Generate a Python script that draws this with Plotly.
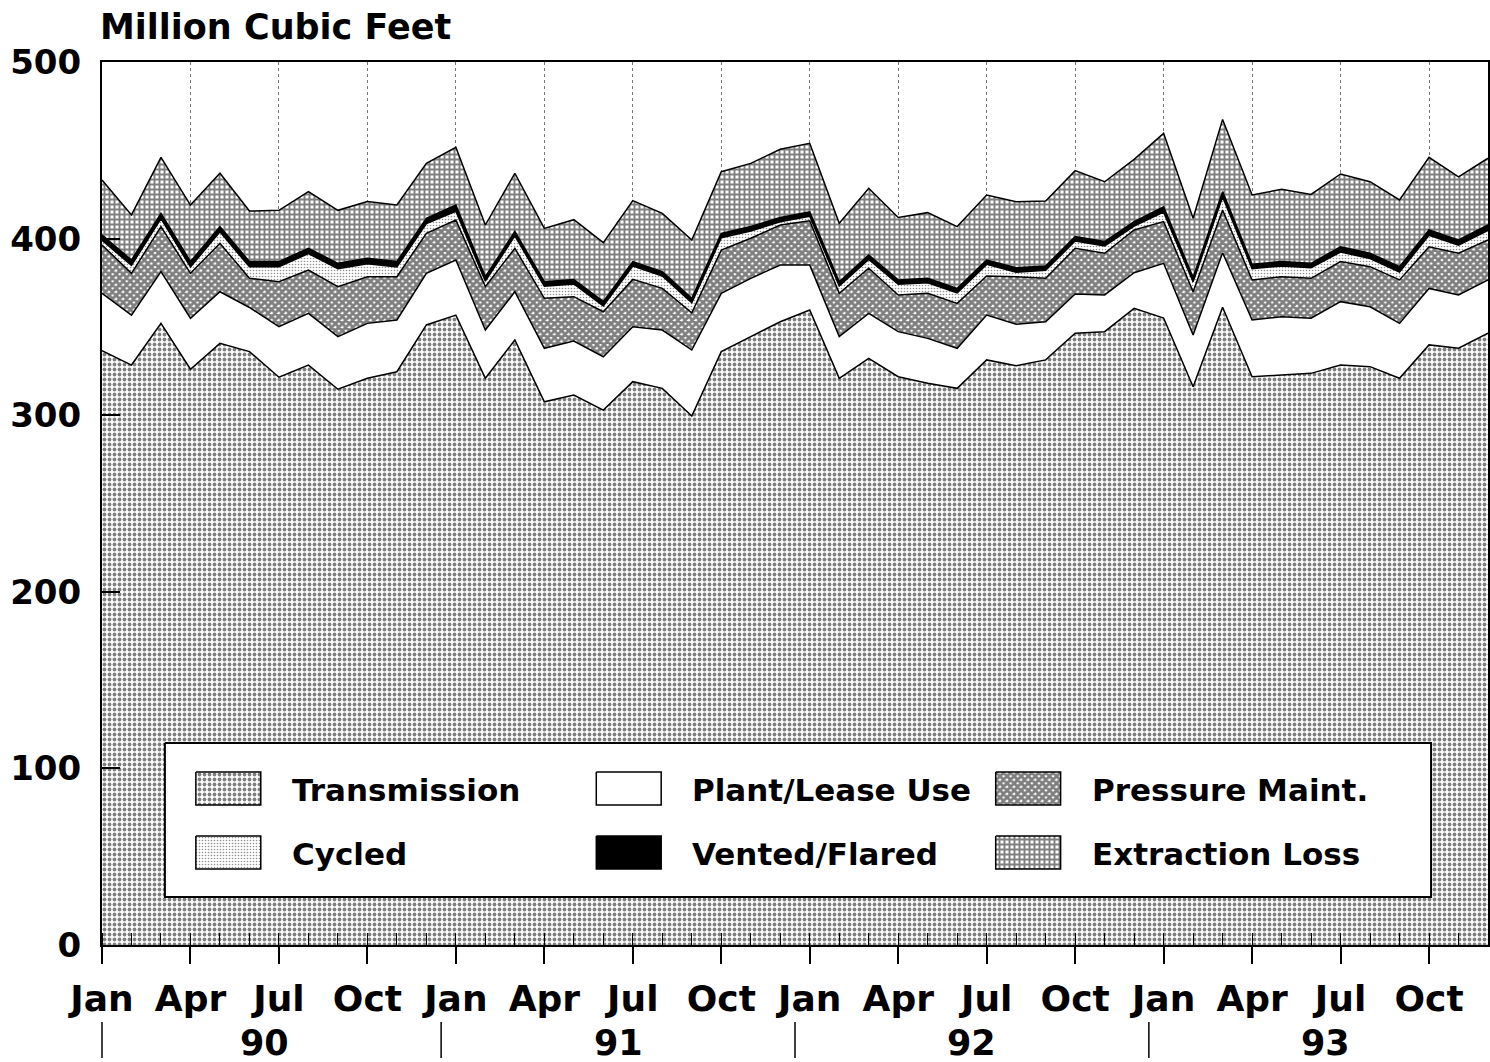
import plotly.graph_objects as go

# month index 0 = Jan 1990 ... 47 = Dec 1993
months = list(range(48))
quarter_ticks = list(range(0, 48, 3))
quarter_labels = ["Jan", "Apr", "Jul", "Oct"] * 4
year_labels = ["90", "91", "92", "93"]
year_centers = [5.5, 17.5, 29.5, 41.5]
year_breaks = [0, 11.5, 23.5, 35.5]

transmission = [336.5, 328.4, 352.0, 326.0, 340.7, 336.0, 321.5, 328.4, 314.7, 320.9, 324.6, 351.1,
                356.7, 320.9, 342.6, 307.6, 311.4, 302.9, 319.0, 315.2, 299.5, 336.0, 344.5, 352.9,
                359.6, 320.9, 332.2, 321.8, 318.1, 315.2, 331.3, 328.0, 331.3, 346.4, 347.3, 360.5,
                355.0, 316.1, 361.1, 321.8, 322.8, 323.7, 328.4, 327.5, 320.9, 339.8, 337.9, 346.4]
plant_lease = [32.5, 28.3, 29.3, 28.9, 29.2, 25.0, 28.6, 29.3, 29.8, 31.1, 29.3, 29.2,
               31.2, 27.3, 27.3, 30.3, 30.6, 30.2, 31.1, 33.0, 37.4, 33.0, 33.0, 32.1,
               25.4, 23.6, 25.5, 25.5, 25.4, 22.7, 25.4, 23.5, 21.6, 22.2, 20.8, 20.2,
               31.0, 29.3, 30.9, 32.1, 33.0, 31.2, 35.9, 33.9, 31.1, 32.0, 30.2, 30.2]
pressure_maint = [27.4, 23.6, 25.5, 25.4, 27.4, 16.5, 25.5, 24.5, 28.3, 26.4, 24.5, 22.7,
                  22.6, 24.6, 24.6, 28.3, 25.1, 25.5, 26.8, 23.6, 21.1, 24.5, 22.7, 22.7,
                  25.1, 24.5, 25.5, 20.8, 25.5, 25.4, 22.1, 26.9, 24.6, 25.9, 23.6, 24.2,
                  23.6, 24.5, 24.2, 22.7, 22.6, 22.6, 22.7, 22.7, 24.6, 23.6, 23.6, 22.6]
cycled = [2.6, 4.6, 4.5, 3.7, 6.5, 6.5, 8.4, 9.3, 10.2, 7.4, 5.6, 5.5,
          5.0, 3.1, 7.0, 6.9, 7.2, 3.2, 7.6, 7.0, 5.7, 7.0, 4.1, 1.8,
          2.6, 4.1, 5.0, 6.0, 6.0, 6.0, 6.6, 2.6, 4.5, 4.1, 4.1, 2.2,
          5.4, 5.6, 7.4, 6.4, 6.1, 6.0, 5.4, 4.6, 4.5, 6.5, 4.5, 5.5]
vented = [3.0, 3.0, 3.0, 3.0, 3.0, 3.0, 3.0, 3.0, 3.0, 3.0, 3.0, 3.0,
          3.5, 2.5, 2.5, 2.5, 2.5, 2.5, 2.5, 2.5, 2.5, 2.5, 2.5, 2.5,
          2.5, 2.5, 2.5, 2.5, 2.5, 2.5, 2.5, 2.5, 2.5, 2.5, 2.5, 2.5,
          3.0, 2.5, 3.0, 2.5, 2.5, 2.5, 3.0, 3.0, 3.0, 3.0, 3.0, 3.0]
extraction = [31.2, 25.5, 31.7, 32.0, 30.2, 28.6, 29.0, 32.1, 30.0, 32.2, 32.0, 31.1,
              32.7, 29.3, 33.0, 30.2, 33.9, 33.4, 34.5, 33.0, 33.0, 34.9, 35.8, 38.6,
              38.8, 33.1, 37.8, 35.4, 37.2, 35.0, 36.8, 37.4, 36.8, 37.4, 33.9, 35.3,
              41.6, 33.5, 40.9, 39.2, 40.9, 39.0, 41.2, 40.5, 37.8, 41.1, 35.8, 37.8]

FONT = "DejaVu Sans"
W, H = 1490, 1062
ML, MR, MT, MB = 102, 0, 62, 117

# fill styles, stacking order bottom -> top
styles = {
    "Transmission": dict(fillpattern=dict(shape=".", size=5, solidity=0.45, fgcolor="black", bgcolor="white")),
    "Plant/Lease Use": dict(fillcolor="white"),
    "Pressure Maint.": dict(fillpattern=dict(shape="x", size=5, solidity=0.8, fgcolor="black", bgcolor="white")),
    "Cycled": dict(fillpattern=dict(shape=".", size=3, solidity=0.22, fgcolor="#222", bgcolor="white")),
    "Vented/Flared": dict(fillcolor="black"),
    "Extraction Loss": dict(fillpattern=dict(shape="+", size=5, solidity=0.62, fgcolor="black", bgcolor="white")),
}
series = [("Transmission", transmission), ("Plant/Lease Use", plant_lease),
          ("Pressure Maint.", pressure_maint), ("Cycled", cycled),
          ("Vented/Flared", vented), ("Extraction Loss", extraction)]

fig = go.Figure()
for name, vals in series:
    fig.add_trace(go.Scatter(x=months, y=vals, name=name, stackgroup="one", mode="lines",
                             line=dict(color="black", width=1.5), showlegend=False,
                             hoverinfo="skip", **styles[name]))

# pixel -> data / paper helpers for the hand-drawn legend and year row
def xpx(p):
    return (p - ML) / ((W - ML - MR) / 47)

def ypx(p):
    return (H - MB - p) / ((H - MT - MB) / 500)

def ypaper(p):
    return (H - MB - p) / (H - MT - MB)

def rect(x0, y0, x1, y1):
    return [xpx(x0), xpx(x1), xpx(x1), xpx(x0), xpx(x0)], [ypx(y0), ypx(y0), ypx(y1), ypx(y1), ypx(y0)]

bx, by = rect(165, 743, 1433, 897)
fig.add_trace(go.Scatter(x=bx, y=by, fill="toself", fillcolor="white", mode="lines",
                         line=dict(color="black", width=2), showlegend=False, hoverinfo="skip"))

legend_layout = [  # name, swatch left px, row top px
    ("Transmission", 196, 772), ("Cycled", 196, 836),
    ("Plant/Lease Use", 597, 772), ("Vented/Flared", 597, 836),
    ("Pressure Maint.", 997, 772), ("Extraction Loss", 997, 836),
]
for name, sx, sy in legend_layout:
    rx, ry = rect(sx, sy, sx + 65, sy + 33)
    fig.add_trace(go.Scatter(x=rx, y=ry, fill="toself", mode="lines",
                             line=dict(color="black", width=1.5), showlegend=False,
                             hoverinfo="skip", **styles[name]))
    fig.add_annotation(x=xpx(sx + 94), y=ypx(sy + 18), text=name, showarrow=False,
                       xanchor="left", yanchor="middle",
                       font=dict(family=FONT, size=31, color="black", weight="bold"))

for xc, lab in zip(year_centers, year_labels):
    fig.add_annotation(x=xc, y=ypaper(1043), yref="paper", text=lab, showarrow=False,
                       xanchor="center", yanchor="middle",
                       font=dict(family=FONT, size=35, color="black", weight="bold"))
for xb in year_breaks:
    fig.add_shape(type="line", xref="paper", yref="paper", x0=xb / 47, x1=xb / 47,
                  y0=ypaper(1022), y1=ypaper(1058), line=dict(color="black", width=1.5))

fig.add_annotation(xref="paper", yref="paper", x=-0.003, y=ypaper(27),
                   text="Million Cubic Feet", showarrow=False, xanchor="left", yanchor="middle",
                   font=dict(family=FONT, size=35, color="black", weight="bold"))

fig.update_xaxes(range=[0, 47], tickmode="array", tickvals=quarter_ticks, ticktext=quarter_labels,
                 ticks="outside", ticklen=17, tickwidth=1.5, tickcolor="black",
                 minor=dict(tickvals=months, ticks="inside", ticklen=12, tickcolor="black", tickwidth=1),
                 showgrid=True, gridcolor="#777", griddash="dot", gridwidth=1,
                 showline=True, linecolor="black", linewidth=2, mirror=True, zeroline=False,
                 ticklabelstandoff=4,
                 tickfont=dict(family=FONT, size=36, color="black", weight="bold"))
fig.update_yaxes(range=[0, 500], tickvals=[0, 100, 200, 300, 400, 500],
                 ticks="inside", ticklen=18, tickwidth=1.5, tickcolor="black",
                 showgrid=False, showline=True, linecolor="black", linewidth=2, mirror=True,
                 zeroline=False, ticklabelstandoff=12,
                 tickfont=dict(family=FONT, size=34, color="black", weight="bold"))

fig.update_layout(width=W, height=H, margin=dict(l=ML, r=MR, t=MT, b=MB),
                  plot_bgcolor="white", paper_bgcolor="white", showlegend=False)

fig.write_html("out.html", config={"displayModeBar": False},
               post_script="document.body.style.margin='0';")
